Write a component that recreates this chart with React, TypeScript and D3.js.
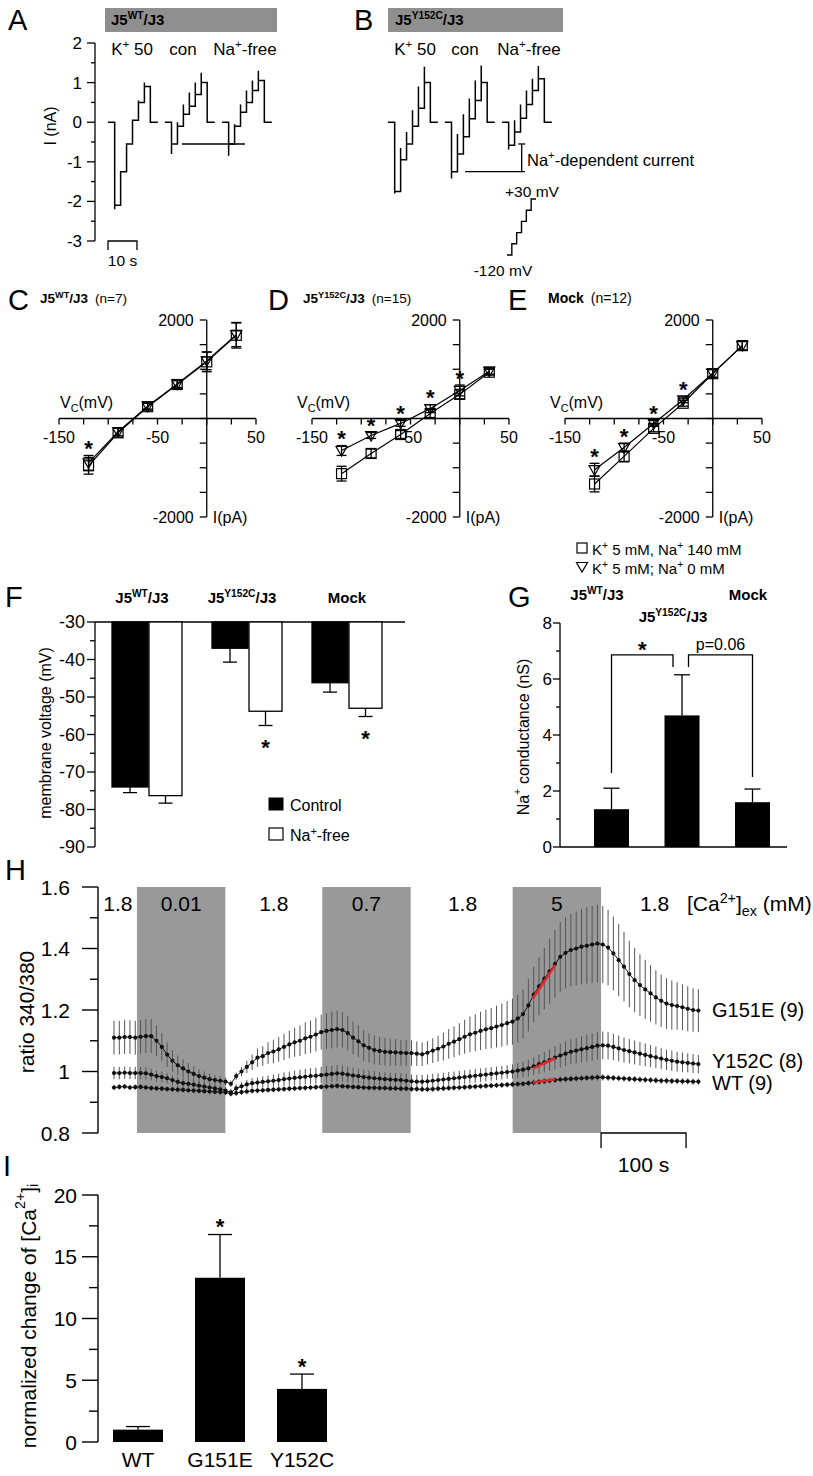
import React from 'react';
import * as d3 from 'd3';

const FONT = "'Liberation Sans', Arial, Helvetica, sans-serif";

/* ---------------- A / B : current traces ---------------- */
const traceNames = ['K^+^ 50', 'con', 'Na^+^-free'];
const traceStartS = [0, 19.6, 39.3];
const baselineBeforeS = 2.3;
const stepDurationS = 2.05;
const baselineAfterS = 2.6;
const protocolMv = [-120, -90, -60, -30, 0, 30];
const currentTicks = [-3, -2, -1, 0, 1, 2];
const aLevels = [
  [-2.1, -1.25, -0.55, 0.05, 0.5, 0.9],
  [-0.55, -0.1, 0.2, 0.4, 0.7, 1.0],
  [-0.55, -0.1, 0.25, 0.5, 0.8, 1.05],
];
const aSpikes = [
  [-2.2, -1.25, -0.55, 0.05, 0.55, 1.0],
  [-0.8, 0.0, 0.45, 0.75, 1.0, 1.25],
  [-0.85, -0.05, 0.45, 0.8, 1.05, 1.3],
];
const bLevels = [
  [-1.75, -0.95, -0.55, -0.1, 0.35, 1.0],
  [-1.25, -0.8, -0.37, 0.09, 0.55, 1.0],
  [-0.58, -0.25, 0.1, 0.45, 0.8, 1.1],
];
const bSpikes = [
  [-1.8, -0.65, -0.25, 0.3, 0.9, 1.4],
  [-1.42, -0.3, 0.2, 0.6, 1.05, 1.43],
  [-0.69, 0.05, 0.45, 0.8, 1.1, 1.42],
];
const aRefLevel = -0.55;
const aRefTimes = [25.5, 47.2];
const bRefLevel = -1.25;
const bRefTimes = [26.6, 47.2];
const bBracketTime = 46.1;

/* ---------------- C / D / E : I-V curves ---------------- */
const ivVoltages = [-120, -90, -60, -30, 0, 30];
const cSquare = [-960, -290, 240, 690, 1150, 1690];
const cSquareErr = [170, 90, 70, 80, 200, 260];
const cTriangle = [-900, -270, 250, 700, 1170, 1700];
const cTriangleErr = [150, 80, 60, 70, 180, 240];
const cStars = [-120];
const dSquare = [-1120, -710, -325, 100, 490, 940];
const dSquareErr = [150, 90, 80, 80, 90, 60];
const dTriangle = [-650, -345, -100, 200, 570, 960];
const dTriangleErr = [100, 60, 60, 80, 110, 60];
const dStars = [-120, -90, -60, -30, 0];
const eSquare = [-1330, -770, -200, 310, 910, 1480];
const eSquareErr = [160, 110, 70, 60, 80, 90];
const eTriangle = [-1040, -590, -100, 380, 920, 1480];
const eTriangleErr = [130, 90, 60, 60, 80, 90];
const eStars = [-120, -90, -60, -30];

/* ---------------- F : membrane voltage ---------------- */
const fGroups = ['J5^WT^/J3', 'J5^Y152C^/J3', 'Mock'];
const fControl = [-74, -37, -46.2];
const fControlErr = [1.5, 3.7, 2.5];
const fNaFree = [-76.3, -53.8, -53];
const fNaFreeErr = [2, 3.8, 2.2];
const fStars = [false, true, true];

/* ---------------- G : Na conductance ---------------- */
const gGroups = ['WT', 'Y152C', 'Mock'];
const gValues = [1.35, 4.7, 1.6];
const gErr = [0.75, 1.45, 0.47];

/* ---------------- H : Ca imaging ---------------- */
const caSampleIntervalS = 6.25;
const g151e = [
  1.11, 1.11, 1.112, 1.112, 1.11, 1.113, 1.115, 1.115, 1.10, 1.08,
  1.055, 1.035, 1.02, 1.01, 1.0, 0.992, 0.985, 0.98, 0.975, 0.972,
  0.97, 0.967, 0.96, 0.985, 1.0, 1.015, 1.03, 1.045, 1.05, 1.06,
  1.065, 1.072, 1.08, 1.088, 1.095, 1.10, 1.108, 1.113, 1.12, 1.128,
  1.132, 1.135, 1.138, 1.135, 1.125, 1.11, 1.098, 1.085, 1.077, 1.07,
  1.067, 1.064, 1.063, 1.062, 1.061, 1.06, 1.06, 1.058, 1.056, 1.061,
  1.068, 1.074, 1.081, 1.09, 1.097, 1.105, 1.113, 1.121, 1.126, 1.132,
  1.137, 1.141, 1.146, 1.151, 1.157, 1.162, 1.172, 1.187, 1.215, 1.25,
  1.277, 1.302, 1.326, 1.35, 1.373, 1.386, 1.395, 1.40, 1.406, 1.409,
  1.413, 1.416, 1.413, 1.403, 1.384, 1.362, 1.341, 1.317, 1.297, 1.281,
  1.267, 1.254, 1.241, 1.23, 1.221, 1.216, 1.213, 1.209, 1.204, 1.2, 1.198,
];
const g151eErr = [
  0.055, 0.055, 0.055, 0.055, 0.055, 0.055, 0.055, 0.055, 0.05, 0.045,
  0.04, 0.035, 0.032, 0.03, 0.027, 0.025, 0.022, 0.02, 0.018, 0.016,
  0.015, 0.013, 0.01, 0.012, 0.015, 0.02, 0.025, 0.03, 0.032, 0.035,
  0.038, 0.04, 0.043, 0.045, 0.047, 0.05, 0.052, 0.053, 0.055, 0.057,
  0.058, 0.06, 0.06, 0.058, 0.056, 0.054, 0.052, 0.05, 0.048, 0.047,
  0.046, 0.045, 0.044, 0.043, 0.042, 0.042, 0.041, 0.04, 0.038, 0.038,
  0.04, 0.042, 0.045, 0.048, 0.05, 0.052, 0.055, 0.058, 0.06, 0.062,
  0.064, 0.066, 0.068, 0.07, 0.072, 0.075, 0.078, 0.08, 0.085, 0.09,
  0.095, 0.1, 0.105, 0.11, 0.113, 0.116, 0.118, 0.12, 0.122, 0.124,
  0.125, 0.126, 0.125, 0.123, 0.12, 0.117, 0.113, 0.108, 0.104, 0.1,
  0.096, 0.092, 0.088, 0.085, 0.082, 0.08, 0.077, 0.075, 0.073, 0.071, 0.07,
];
const y152c = [
  0.995, 0.995, 0.996, 0.995, 0.995, 0.995, 0.994, 0.99, 0.985, 0.982,
  0.978, 0.972, 0.966, 0.962, 0.96, 0.957, 0.954, 0.951, 0.948, 0.945,
  0.942, 0.938, 0.932, 0.945, 0.952, 0.958, 0.962, 0.964, 0.966, 0.968,
  0.97, 0.972, 0.975, 0.977, 0.979, 0.981, 0.983, 0.985, 0.986, 0.988,
  0.99, 0.992, 0.994, 0.993, 0.99, 0.987, 0.985, 0.982, 0.98, 0.978,
  0.977, 0.975, 0.974, 0.973, 0.972, 0.97, 0.968, 0.967, 0.967, 0.968,
  0.97, 0.972, 0.974, 0.976, 0.978, 0.98, 0.982, 0.984, 0.986, 0.988,
  0.99, 0.992, 0.994, 0.996, 0.998, 1.0, 1.003, 1.006, 1.01, 1.017,
  1.024, 1.03, 1.037, 1.045, 1.052, 1.058, 1.064, 1.068, 1.072, 1.076,
  1.08, 1.084, 1.085, 1.084, 1.08, 1.075, 1.07, 1.066, 1.062, 1.058,
  1.054, 1.05, 1.046, 1.042, 1.038, 1.035, 1.032, 1.03, 1.028, 1.026, 1.024,
];
const y152cErr = [
  0.02, 0.02, 0.02, 0.02, 0.02, 0.02, 0.02, 0.019, 0.018, 0.018,
  0.017, 0.017, 0.016, 0.016, 0.015, 0.015, 0.014, 0.014, 0.013, 0.013,
  0.012, 0.012, 0.012, 0.013, 0.014, 0.015, 0.016, 0.017, 0.018, 0.019,
  0.02, 0.021, 0.022, 0.023, 0.024, 0.025, 0.025, 0.026, 0.026, 0.027,
  0.027, 0.027, 0.027, 0.026, 0.025, 0.025, 0.024, 0.024, 0.023, 0.023,
  0.022, 0.022, 0.022, 0.022, 0.022, 0.022, 0.022, 0.022, 0.022, 0.022,
  0.022, 0.022, 0.022, 0.022, 0.022, 0.022, 0.022, 0.022, 0.022, 0.022,
  0.022, 0.022, 0.022, 0.022, 0.022, 0.023, 0.024, 0.025, 0.027, 0.029,
  0.031, 0.033, 0.035, 0.037, 0.039, 0.04, 0.041, 0.042, 0.043, 0.044,
  0.045, 0.045, 0.045, 0.044, 0.043, 0.042, 0.041, 0.04, 0.039, 0.038,
  0.037, 0.036, 0.035, 0.034, 0.033, 0.033, 0.032, 0.032, 0.031, 0.031, 0.03,
];
const wt = [
  0.948, 0.95, 0.951, 0.948, 0.949, 0.95, 0.948, 0.946, 0.945, 0.944,
  0.943, 0.942, 0.941, 0.94, 0.939, 0.938, 0.937, 0.936, 0.935, 0.934,
  0.933, 0.932, 0.928, 0.93, 0.933, 0.935, 0.937, 0.938, 0.939, 0.94,
  0.941, 0.942, 0.943, 0.944, 0.945, 0.946, 0.947, 0.948, 0.949, 0.95,
  0.951, 0.952, 0.953, 0.952, 0.951, 0.95, 0.949, 0.948, 0.947, 0.947,
  0.946, 0.946, 0.945, 0.945, 0.944, 0.944, 0.943, 0.943, 0.942, 0.942,
  0.943, 0.944, 0.945, 0.946, 0.947, 0.948, 0.949, 0.95, 0.951, 0.952,
  0.953, 0.954, 0.955, 0.956, 0.957, 0.958, 0.959, 0.96, 0.962, 0.964,
  0.966, 0.968, 0.97, 0.972, 0.974, 0.975, 0.976, 0.977, 0.978, 0.979,
  0.98, 0.981, 0.981, 0.98, 0.979, 0.978, 0.977, 0.976, 0.975, 0.974,
  0.973, 0.972, 0.971, 0.97, 0.97, 0.969, 0.969, 0.968, 0.968, 0.967, 0.967,
];
const wtErr = [
  0.009, 0.009, 0.009, 0.009, 0.009, 0.009, 0.009, 0.009, 0.009, 0.009,
  0.009, 0.009, 0.009, 0.009, 0.009, 0.009, 0.009, 0.009, 0.009, 0.009,
  0.009, 0.009, 0.009, 0.009, 0.009, 0.009, 0.009, 0.009, 0.009, 0.009,
  0.009, 0.009, 0.009, 0.009, 0.009, 0.009, 0.009, 0.009, 0.009, 0.009,
  0.009, 0.009, 0.009, 0.009, 0.009, 0.009, 0.009, 0.009, 0.009, 0.009,
  0.009, 0.009, 0.009, 0.009, 0.009, 0.009, 0.009, 0.009, 0.009, 0.009,
  0.009, 0.009, 0.009, 0.009, 0.009, 0.009, 0.009, 0.009, 0.009, 0.009,
  0.009, 0.009, 0.009, 0.009, 0.009, 0.009, 0.009, 0.009, 0.01, 0.01,
  0.01, 0.01, 0.01, 0.01, 0.01, 0.01, 0.01, 0.01, 0.01, 0.01,
  0.01, 0.01, 0.01, 0.01, 0.01, 0.01, 0.01, 0.01, 0.01, 0.01,
  0.01, 0.01, 0.01, 0.01, 0.01, 0.01, 0.01, 0.01, 0.01, 0.01, 0.01,
];
const caSeriesNames = ['G151E (9)', 'Y152C (8)', 'WT (9)'];
const caBandStart = [27, 245, 469];
const caBandEnd = [131, 349, 573];
const caLabels = ['1.8', '0.01', '1.8', '0.7', '1.8', '5', '1.8'];
const caLabelTimes = [4.5, 79, 188, 297, 410, 521, 636];
const fitTimes = [493, 519];
const g151eFit = [1.238, 1.346];
const y152cFit = [1.01, 1.043];
const wtFit = [0.964, 0.975];
const hTicks = [0.8, 0.9, 1.0, 1.1, 1.2, 1.3, 1.4, 1.5, 1.6];
const hTickLabels = ['0.8', '', '1', '', '1.2', '', '1.4', '', '1.6'];
const scaleBarTimes = [573, 673];

/* ---------------- I : normalized Ca change ---------------- */
const iLabels = ['WT', 'G151E', 'Y152C'];
const iValues = [1.0, 13.3, 4.3];
const iErr = [0.25, 3.5, 1.2];
const iStars = [false, true, true];

/* ---------------- helpers ---------------- */
function parse(s) {
  return s
    .split(/(\^[^^]*\^|_[^_]*_)/)
    .filter((t) => t.length > 0)
    .map((t) => {
      if (t.length > 1 && t[0] === '^' && t[t.length - 1] === '^') return { t: t.slice(1, -1), sup: true };
      if (t.length > 1 && t[0] === '_' && t[t.length - 1] === '_') return { t: t.slice(1, -1), sub: true };
      return { t };
    });
}

function RT({ x, y, s, size, anchor = 'start', weight = 'normal', rotate = 0, baseline = undefined, tail = undefined }) {
  const parts = parse(s);
  let shift = 0;
  return (
    <text
      x={x}
      y={y}
      fontSize={size}
      textAnchor={anchor}
      fontWeight={weight}
      dominantBaseline={baseline}
      transform={rotate ? `rotate(${rotate},${x},${y})` : undefined}
    >
      {parts.map((p, i) => {
        const target = p.sup ? -0.4 * size : p.sub ? 0.22 * size : 0;
        const dy = target - shift;
        shift = target;
        return (
          <tspan key={i} dy={dy} fontSize={p.sup || p.sub ? size * 0.68 : size}>
            {p.t}
          </tspan>
        );
      })}
      {tail ? (
        <tspan dx={7} dy={-shift} fontWeight="normal" fontSize={size}>
          {tail}
        </tspan>
      ) : null}
    </text>
  );
}

function Star({ x, cy, size = 22 }) {
  return (
    <text x={x} y={cy + size * 0.57} fontSize={size} fontWeight="bold" textAnchor="middle">
      *
    </text>
  );
}

function Letter({ x, y, c }) {
  return (
    <text x={x} y={y} fontSize={29}>
      {c}
    </text>
  );
}

/* ---------------- A / B ---------------- */
function tracePath(x, y, start, levels, spikes) {
  const p = d3.path();
  let t = start;
  p.moveTo(x(t), y(0));
  t += baselineBeforeS;
  p.lineTo(x(t), y(0));
  levels.forEach((lv, k) => {
    p.lineTo(x(t), y(spikes[k]));
    p.lineTo(x(t), y(lv));
    t += stepDurationS;
    p.lineTo(x(t), y(lv));
  });
  p.lineTo(x(t), y(0));
  p.lineTo(x(t + baselineAfterS), y(0));
  return p.toString();
}

function PanelsAB() {
  const y = d3.scaleLinear().domain([-3, 2]).range([241, 43]);
  const xA = d3.scaleLinear().domain([0, 10]).range([108, 137]);
  const xB = d3.scaleLinear().domain([0, 10]).range([388, 417]);
  const ticks = d3.range(-3, 2.001, 0.5);
  const px = d3.scaleLinear().domain([0, protocolMv.length]).range([507, 536]);
  const pv = d3.scaleLinear().domain([-120, 30]).range([255, 199]);
  const proto = d3.path();
  proto.moveTo(px(0), pv(protocolMv[0]));
  protocolMv.forEach((v, k) => {
    proto.lineTo(px(k), pv(v));
    proto.lineTo(px(k + 1), pv(v));
  });
  const aLabelX = [132, 183, 245];
  const bLabelX = [415, 465, 529];
  return (
    <g>
      <Letter x={8} y={30} c="A" />
      <Letter x={354} y={30} c="B" />
      <rect x={105} y={8} width={172} height={24} fill="#8f8f8f" />
      <rect x={388} y={8} width={175} height={24} fill="#8f8f8f" />
      <RT x={111} y={25} s="J5^WT^/J3" size={15} weight="bold" />
      <RT x={395} y={25} s="J5^Y152C^/J3" size={15} weight="bold" />
      {traceNames.map((n, i) => (
        <RT key={'a' + i} x={aLabelX[i]} y={55} s={n} size={17} anchor="middle" />
      ))}
      {traceNames.map((n, i) => (
        <RT key={'b' + i} x={bLabelX[i]} y={55} s={n} size={17} anchor="middle" />
      ))}
      {/* y axis */}
      <line x1={95} x2={95} y1={y(-3)} y2={y(2)} stroke="#000" strokeWidth={1.3} />
      {ticks.map((t) => (
        <line key={t} x1={Number.isInteger(t) ? 87 : 91} x2={95} y1={y(t)} y2={y(t)} stroke="#000" strokeWidth={1.3} />
      ))}
      {currentTicks.map((t) => (
        <text key={t} x={82} y={y(t) + 6} fontSize={17} textAnchor="end">
          {t}
        </text>
      ))}
      <RT x={50} y={126} s="I (nA)" size={16} anchor="middle" rotate={-90} baseline="central" />
      {/* traces */}
      {traceStartS.map((s, i) => (
        <path key={'ta' + i} d={tracePath(xA, y, s, aLevels[i], aSpikes[i])} fill="none" stroke="#000" strokeWidth={1.5} />
      ))}
      {traceStartS.map((s, i) => (
        <path key={'tb' + i} d={tracePath(xB, y, s, bLevels[i], bSpikes[i])} fill="none" stroke="#000" strokeWidth={1.5} />
      ))}
      <line x1={xA(aRefTimes[0])} x2={xA(aRefTimes[1])} y1={y(aRefLevel)} y2={y(aRefLevel)} stroke="#000" strokeWidth={1.3} />
      <line x1={xB(bRefTimes[0])} x2={xB(bRefTimes[1])} y1={y(bRefLevel)} y2={y(bRefLevel)} stroke="#000" strokeWidth={1.3} />
      <line x1={xB(bBracketTime)} x2={xB(bBracketTime)} y1={y(aRefLevel)} y2={y(bRefLevel)} stroke="#000" strokeWidth={1.3} />
      <line x1={xB(bBracketTime) - 3.5} x2={xB(bBracketTime) + 3.5} y1={y(aRefLevel)} y2={y(aRefLevel)} stroke="#000" strokeWidth={1.3} />
      <RT x={527} y={166} s="Na^+^-dependent current" size={16.5} />
      {/* voltage protocol */}
      <path d={proto.toString()} fill="none" stroke="#000" strokeWidth={1.4} />
      <text x={532} y={197} fontSize={15.5} textAnchor="middle">+30 mV</text>
      <text x={503} y={276} fontSize={15.5} textAnchor="middle">-120 mV</text>
      {/* 10 s scale bar */}
      <path
        d={`M${xA(0)},${y(-3) + 9}V${y(-3)}H${xA(10)}V${y(-3) + 9}`}
        fill="none"
        stroke="#000"
        strokeWidth={1.3}
      />
      <text x={(xA(0) + xA(10)) / 2} y={266} fontSize={15.5} textAnchor="middle">10 s</text>
    </g>
  );
}

/* ---------------- C / D / E ---------------- */
function IVPanel({ x0, vcX, sq, sqErr, tri, triErr, stars }) {
  const x = d3.scaleLinear().domain([-150, 50]).range([x0, x0 + 197]);
  const y = d3.scaleLinear().domain([-2000, 2000]).range([517, 320]);
  const line = d3
    .line()
    .x((d, i) => x(ivVoltages[i]))
    .y((d) => y(d));
  const xt = d3.range(-150, 50.1, 25);
  const yt = d3.range(-2000, 2000.1, 500);
  const sw = 1.3;
  const errBars = (vals, errs, key) =>
    vals.map((v, i) => {
      const cx = x(ivVoltages[i]);
      return (
        <g key={key + i}>
          <line x1={cx} x2={cx} y1={y(v - errs[i])} y2={y(v + errs[i])} stroke="#000" strokeWidth={sw} />
          <line x1={cx - 5} x2={cx + 5} y1={y(v - errs[i])} y2={y(v - errs[i])} stroke="#000" strokeWidth={sw} />
          <line x1={cx - 5} x2={cx + 5} y1={y(v + errs[i])} y2={y(v + errs[i])} stroke="#000" strokeWidth={sw} />
        </g>
      );
    });
  return (
    <g>
      <line x1={x(-150)} x2={x(50)} y1={y(0)} y2={y(0)} stroke="#000" strokeWidth={sw} />
      {xt.map((t) => (
        <line key={t} x1={x(t)} x2={x(t)} y1={y(0)} y2={y(0) + 6} stroke="#000" strokeWidth={sw} />
      ))}
      {[-150, -50, 50].map((t) => (
        <text key={t} x={x(t)} y={y(0) + 24} fontSize={16} textAnchor="middle">
          {t}
        </text>
      ))}
      <line x1={x(0)} x2={x(0)} y1={y(-2000)} y2={y(2000)} stroke="#000" strokeWidth={sw} />
      {yt.map((t) => (
        <line key={t} x1={x(0) - 7} x2={x(0)} y1={y(t)} y2={y(t)} stroke="#000" strokeWidth={sw} />
      ))}
      <text x={x(0) - 13} y={y(2000) + 5.5} fontSize={16} textAnchor="end">2000</text>
      <text x={x(0) - 13} y={y(-2000) + 5.5} fontSize={16} textAnchor="end">-2000</text>
      <RT x={vcX} y={408} s="V_C_(mV)" size={16} />
      <text x={x(0) + 6} y={y(-2000) + 5.5} fontSize={16}>I(pA)</text>
      {errBars(sq, sqErr, 's')}
      {errBars(tri, triErr, 't')}
      <path d={line(sq)} fill="none" stroke="#000" strokeWidth={1.2} />
      <path d={line(tri)} fill="none" stroke="#000" strokeWidth={1.2} />
      {sq.map((v, i) => (
        <rect key={'q' + i} x={x(ivVoltages[i]) - 5} y={y(v) - 5} width={10} height={10} fill="none" stroke="#000" strokeWidth={1.2} />
      ))}
      {tri.map((v, i) => {
        const cx = x(ivVoltages[i]);
        const cy = y(v);
        return (
          <path key={'v' + i} d={`M${cx - 5.5},${cy - 4}L${cx + 5.5},${cy - 4}L${cx},${cy + 5.5}Z`} fill="none" stroke="#000" strokeWidth={1.2} />
        );
      })}
      {stars.map((v) => {
        const i = ivVoltages.indexOf(v);
        const top = Math.max(sq[i] + sqErr[i], tri[i] + triErr[i]);
        return <Star key={'st' + v} x={x(v)} cy={y(top) - 12} />;
      })}
    </g>
  );
}

/* ---------------- F ---------------- */
function PanelF() {
  const y = d3.scaleLinear().domain([-90, -30]).range([847, 622]);
  const xc = d3.scalePoint().domain(fGroups).range([148, 348]);
  const ticks = d3.range(-90, -29.9, 5);
  const sw = 1.3;
  return (
    <g>
      <Letter x={5} y={607} c="F" />
      <line x1={95} x2={95} y1={y(-90)} y2={y(-30)} stroke="#000" strokeWidth={sw} />
      <line x1={95} x2={405} y1={y(-30)} y2={y(-30)} stroke="#000" strokeWidth={sw} />
      {ticks.map((t) => (
        <line key={t} x1={t % 10 === 0 ? 87 : 90} x2={95} y1={y(t)} y2={y(t)} stroke="#000" strokeWidth={sw} />
      ))}
      {ticks
        .filter((t) => t % 10 === 0)
        .map((t) => (
          <text key={t} x={85} y={y(t) + 6} fontSize={18} textAnchor="end">
            {t}
          </text>
        ))}
      <RT x={45} y={733} s="membrane voltage (mV)" size={16} anchor="middle" rotate={-90} baseline="central" />
      {fGroups.map((g, i) => {
        const c = xc(g);
        const cC = c - 18;
        const cN = c + 17.5;
        return (
          <g key={g}>
            <RT x={c - 6 + (i === 2 ? 5 : 0)} y={603} s={g} size={15} anchor="middle" weight="bold" />
            <rect x={c - 36} y={y(-30)} width={36} height={y(fControl[i]) - y(-30)} fill="#000" stroke="#000" strokeWidth={sw} />
            <line x1={cC} x2={cC} y1={y(fControl[i])} y2={y(fControl[i] - fControlErr[i])} stroke="#000" strokeWidth={sw} />
            <line x1={cC - 7} x2={cC + 7} y1={y(fControl[i] - fControlErr[i])} y2={y(fControl[i] - fControlErr[i])} stroke="#000" strokeWidth={sw} />
            <rect x={c + 1} y={y(-30)} width={33} height={y(fNaFree[i]) - y(-30)} fill="#fff" stroke="#000" strokeWidth={sw} />
            <line x1={cN} x2={cN} y1={y(fNaFree[i])} y2={y(fNaFree[i] - fNaFreeErr[i])} stroke="#000" strokeWidth={sw} />
            <line x1={cN - 7} x2={cN + 7} y1={y(fNaFree[i] - fNaFreeErr[i])} y2={y(fNaFree[i] - fNaFreeErr[i])} stroke="#000" strokeWidth={sw} />
            {fStars[i] && <Star x={cN} cy={y(fNaFree[i] - fNaFreeErr[i]) + 17} />}
          </g>
        );
      })}
      <rect x={269} y={798} width={14} height={12} fill="#000" stroke="#000" />
      <text x={290} y={811} fontSize={16}>Control</text>
      <rect x={269} y={828} width={14} height={12} fill="#fff" stroke="#000" strokeWidth={1.2} />
      <RT x={290} y={841} s="Na^+^-free" size={16} />
    </g>
  );
}

/* ---------------- G ---------------- */
function PanelG() {
  const y = d3.scaleLinear().domain([0, 8]).range([847, 623]);
  const xc = d3.scalePoint().domain(gGroups).range([611.5, 752.5]);
  const ticks = d3.range(0, 8.01, 1);
  const sw = 1.3;
  const bw = 35;
  const cW = xc('WT');
  const cY = xc('Y152C');
  const cM = xc('Mock');
  const top = y(6.86);
  return (
    <g>
      <Letter x={508} y={607} c="G" />
      <line x1={560} x2={560} y1={y(0)} y2={y(8)} stroke="#000" strokeWidth={sw} />
      <line x1={560} x2={787} y1={y(0)} y2={y(0)} stroke="#000" strokeWidth={sw} />
      {ticks.map((t) => (
        <line key={t} x1={t % 2 === 0 ? 553 : 556} x2={560} y1={y(t)} y2={y(t)} stroke="#000" strokeWidth={sw} />
      ))}
      {ticks
        .filter((t) => t % 2 === 0)
        .map((t) => (
          <text key={t} x={552} y={y(t) + 6} fontSize={17} textAnchor="end">
            {t}
          </text>
        ))}
      <RT x={523} y={737} s="Na^+^ conductance (nS)" size={16} anchor="middle" rotate={-90} baseline="central" />
      <RT x={597} y={600} s="J5^WT^/J3" size={15} anchor="middle" weight="bold" />
      <RT x={748} y={600} s="Mock" size={15} anchor="middle" weight="bold" />
      <RT x={673} y={622} s="J5^Y152C^/J3" size={15} anchor="middle" weight="bold" />
      {gGroups.map((g, i) => {
        const c = xc(g);
        return (
          <g key={g}>
            <rect x={c - bw / 2} y={y(gValues[i])} width={bw} height={y(0) - y(gValues[i])} fill="#000" />
            <line x1={c} x2={c} y1={y(gValues[i])} y2={y(gValues[i] + gErr[i])} stroke="#000" strokeWidth={sw} />
            <line x1={c - 8} x2={c + 8} y1={y(gValues[i] + gErr[i])} y2={y(gValues[i] + gErr[i])} stroke="#000" strokeWidth={sw} />
          </g>
        );
      })}
      <path d={`M${cW},${y(2.64)}V${top}H${cY - 9}V${y(6.43)}`} fill="none" stroke="#000" strokeWidth={sw} />
      <path d={`M${cY + 6.5},${y(6.43)}V${top}H${cM}V${y(2.5)}`} fill="none" stroke="#000" strokeWidth={sw} />
      <Star x={(cW + cY - 9) / 2} cy={top - 10} />
      <text x={(cY + 6.5 + cM) / 2} y={650} fontSize={16} textAnchor="middle">p=0.06</text>
    </g>
  );
}

/* ---------------- H ---------------- */
function PanelH() {
  const x = d3.scaleLinear().domain([0, 100]).range([114, 199]);
  const y = d3.scaleLinear().domain([0.8, 1.6]).range([1133, 887]);
  const series = [
    { v: g151e, e: g151eErr, fit: g151eFit },
    { v: y152c, e: y152cErr, fit: y152cFit },
    { v: wt, e: wtErr, fit: wtFit },
  ];
  const labelY = [1017, 1068, 1090];
  const line = d3
    .line()
    .x((d, i) => x(i * caSampleIntervalS))
    .y((d) => y(d));
  return (
    <g>
      <Letter x={5} y={880} c="H" />
      {caBandStart.map((s, i) => (
        <rect key={i} x={x(s)} y={y(1.6)} width={x(caBandEnd[i]) - x(s)} height={y(0.8) - y(1.6)} fill="#999999" />
      ))}
      <line x1={98} x2={98} y1={y(0.8)} y2={y(1.6)} stroke="#000" strokeWidth={1.4} />
      {hTicks.map((t, i) => (
        <line key={t} x1={hTickLabels[i] ? 82 : 90} x2={98} y1={y(t)} y2={y(t)} stroke="#000" strokeWidth={1.4} />
      ))}
      {hTicks.map((t, i) =>
        hTickLabels[i] ? (
          <text key={t} x={70} y={y(t) + 7.5} fontSize={21} textAnchor="end">
            {hTickLabels[i]}
          </text>
        ) : null
      )}
      <RT x={26} y={1012} s="ratio 340/380" size={21} anchor="middle" rotate={-90} baseline="central" />
      {caLabels.map((l, i) => (
        <text key={i} x={x(caLabelTimes[i])} y={911} fontSize={21} textAnchor="middle">
          {l}
        </text>
      ))}
      <RT x={687} y={911} s="[Ca^2+^]_ex_ (mM)" size={21} />
      {series.map((s, k) =>
        s.v.map((v, i) => (
          <line
            key={k + '-' + i}
            x1={x(i * caSampleIntervalS)}
            x2={x(i * caSampleIntervalS)}
            y1={y(v - s.e[i])}
            y2={y(v + s.e[i])}
            stroke="#555"
            strokeWidth={1}
          />
        ))
      )}
      {series.map((s, k) => (
        <path key={'l' + k} d={line(s.v)} fill="none" stroke="#111" strokeWidth={1} />
      ))}
      {series.map((s, k) =>
        s.v.map((v, i) => <circle key={'c' + k + '-' + i} cx={x(i * caSampleIntervalS)} cy={y(v)} r={2.1} fill="#111" />)
      )}
      {series.map((s, k) => (
        <line
          key={'f' + k}
          x1={x(fitTimes[0])}
          x2={x(fitTimes[1])}
          y1={y(s.fit[0])}
          y2={y(s.fit[1])}
          stroke="#e3262b"
          strokeWidth={2.6}
        />
      ))}
      {caSeriesNames.map((n, k) => (
        <text key={n} x={712} y={labelY[k]} fontSize={20}>
          {n}
        </text>
      ))}
      <path
        d={`M${x(scaleBarTimes[0])},${y(0.8) + 15}V${y(0.8)}H${x(scaleBarTimes[1])}V${y(0.8) + 15}`}
        fill="none"
        stroke="#000"
        strokeWidth={1.3}
      />
      <text x={(x(scaleBarTimes[0]) + x(scaleBarTimes[1])) / 2} y={1172} fontSize={21} textAnchor="middle">
        100 s
      </text>
    </g>
  );
}

/* ---------------- I ---------------- */
function PanelI() {
  const y = d3.scaleLinear().domain([0, 20]).range([1442, 1195]);
  const xc = d3.scalePoint().domain(iLabels).range([138, 302]);
  const ticks = d3.range(0, 20.01, 2.5);
  const bw = 50;
  return (
    <g>
      <Letter x={3} y={1176} c="I" />
      <line x1={98} x2={98} y1={y(0)} y2={y(20)} stroke="#000" strokeWidth={1.4} />
      {ticks.map((t) => (
        <line key={t} x1={t % 5 === 0 ? 82 : 89} x2={98} y1={y(t)} y2={y(t)} stroke="#000" strokeWidth={1.4} />
      ))}
      {ticks
        .filter((t) => t % 5 === 0)
        .map((t) => (
          <text key={t} x={77} y={y(t) + 7.5} fontSize={21} textAnchor="end">
            {t}
          </text>
        ))}
      <RT x={28} y={1316} s="normalized change of [Ca^2+^]_i_" size={21} anchor="middle" rotate={-90} baseline="central" />
      {iLabels.map((l, i) => {
        const c = xc(l);
        return (
          <g key={l}>
            <rect x={c - bw / 2} y={y(iValues[i])} width={bw} height={y(0) - y(iValues[i])} fill="#000" />
            <line x1={c} x2={c} y1={y(iValues[i])} y2={y(iValues[i] + iErr[i])} stroke="#000" strokeWidth={1.3} />
            <line x1={c - 12} x2={c + 12} y1={y(iValues[i] + iErr[i])} y2={y(iValues[i] + iErr[i])} stroke="#000" strokeWidth={1.3} />
            {iStars[i] && <Star x={c} cy={y(iValues[i] + iErr[i]) - 13} />}
            <text x={c} y={1467} fontSize={21} textAnchor="middle">
              {l}
            </text>
          </g>
        );
      })}
    </g>
  );
}

export default function App() {
  return (
    <svg
      width={813}
      height={1476}
      style={{ position: 'absolute', left: 0, top: 0, display: 'block', background: '#fff' }}
      fontFamily={FONT}
    >
      <rect x={0} y={0} width={813} height={1476} fill="#fff" />
      <PanelsAB />
      {/* C/D/E titles */}
      <Letter x={8} y={310} c="C" />
      <Letter x={268} y={310} c="D" />
      <Letter x={508} y={310} c="E" />
      <RT x={40} y={303} s="J5^WT^/J3" size={13.5} weight="bold" tail="(n=7)" />
      <RT x={303} y={303} s="J5^Y152C^/J3" size={13.5} weight="bold" tail="(n=15)" />
      <RT x={548} y={303} s="Mock" size={14} weight="bold" tail="(n=12)" />
      <IVPanel x0={59} vcX={60} sq={cSquare} sqErr={cSquareErr} tri={cTriangle} triErr={cTriangleErr} stars={cStars} />
      <IVPanel x0={312} vcX={297} sq={dSquare} sqErr={dSquareErr} tri={dTriangle} triErr={dTriangleErr} stars={dStars} />
      <IVPanel x0={565} vcX={550} sq={eSquare} sqErr={eSquareErr} tri={eTriangle} triErr={eTriangleErr} stars={eStars} />
      {/* E legend */}
      <rect x={577} y={543} width={10} height={10} fill="none" stroke="#000" strokeWidth={1.2} />
      <RT x={592} y={555} s="K^+^ 5 mM, Na^+^ 140 mM" size={15} />
      <path d="M576.5,562.5L587.5,562.5L582,572Z" fill="none" stroke="#000" strokeWidth={1.2} />
      <RT x={592} y={574} s="K^+^ 5 mM; Na^+^ 0 mM" size={15} />
      <PanelF />
      <PanelG />
      <PanelH />
      <PanelI />
    </svg>
  );
}
